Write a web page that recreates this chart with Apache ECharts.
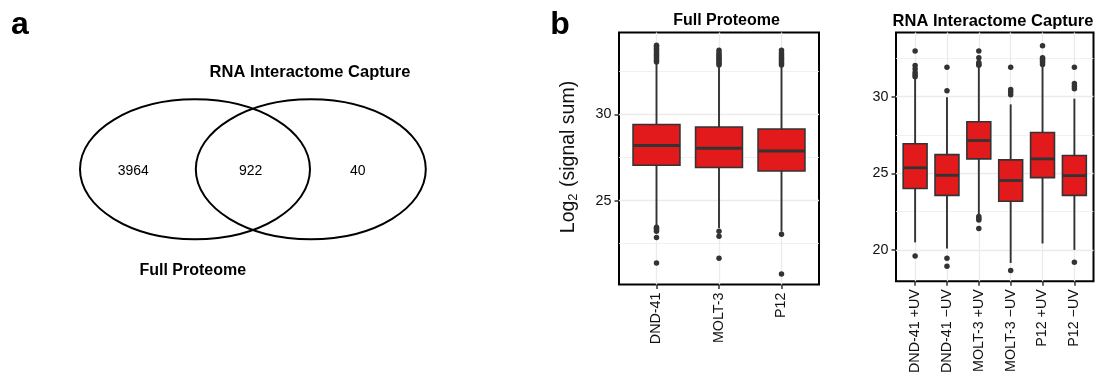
<!DOCTYPE html>
<html>
<head>
<meta charset="utf-8">
<script src="https://cdn.jsdelivr.net/npm/echarts@6/dist/echarts.min.js"></script>
<style>
html,body{margin:0;padding:0;background:#fff;}
#c{width:1096px;height:376px;}
</style>
</head>
<body>
<div id="c"></div>
<script>
// ---------- data ----------
const vennSetLabels = ['Full Proteome', 'RNA Interactome Capture'];
const vennCounts = [3964, 922, 40]; // only FP, both, only RIC

const fpCategories = ['DND-41', 'MOLT-3', 'P12'];
// [lower whisker, Q1, median, Q3, upper whisker]
const fpBoxes = [
  [23.50, 27.05, 28.20, 29.42, 32.97],
  [23.40, 26.92, 28.04, 29.28, 32.81],
  [23.20, 26.72, 27.88, 29.16, 32.80]
];
const fpOutliers = [
  [33.05, 33.15, 33.25, 33.35, 33.45, 33.55, 33.65, 33.75, 33.85, 33.95, 34.03, 23.45, 23.38, 23.30, 23.22, 22.85, 21.37],
  [32.88, 32.98, 33.08, 33.18, 33.28, 33.38, 33.48, 33.58, 33.74, 23.21, 22.92, 21.65],
  [32.88, 32.98, 33.08, 33.18, 33.28, 33.38, 33.48, 33.58, 33.74, 23.04, 20.73]
];
const fpTicks = [25, 30];
const fpMinor = [22.5, 27.5, 32.5];

const ricCategories = ['DND-41 +UV', 'DND-41 \u2212UV', 'MOLT-3 +UV', 'MOLT-3 \u2212UV', 'P12 +UV', 'P12 \u2212UV'];
const ricBoxes = [
  [20.49, 24.01, 25.36, 26.93, 31.25],
  [20.10, 23.56, 24.87, 26.22, 29.97],
  [22.31, 25.94, 27.14, 28.37, 31.95],
  [19.15, 23.18, 24.53, 25.88, 29.50],
  [20.42, 24.72, 25.94, 27.66, 31.97],
  [20.00, 23.56, 24.85, 26.16, 29.87]
];
const ricOutliers = [
  [31.30, 31.43, 31.58, 31.80, 32.04, 32.98, 19.61],
  [30.39, 31.93, 19.46, 18.93],
  [32.05, 32.12, 32.23, 32.55, 32.98, 22.18, 22.05, 21.95, 21.39],
  [30.13, 30.30, 30.47, 31.93, 18.66],
  [32.10, 32.23, 32.33, 32.44, 32.55, 33.32],
  [30.52, 30.68, 30.86, 31.93, 19.20]
];
const ricTicks = [20, 25, 30];
const ricMinor = [22.5, 27.5, 32.5];

// ---------- styling ----------
const FONT = 'Liberation Sans, Arial, Helvetica, sans-serif';
const BOX_FILL = '#E31A1C';
const DARK = '#333333';
const TXT = '#111111';

function renderBox(params, api) {
  const x = api.value(0);
  const lo = api.coord([x, api.value(1)]);
  const q1 = api.coord([x, api.value(2)]);
  const md = api.coord([x, api.value(3)]);
  const q3 = api.coord([x, api.value(4)]);
  const hi = api.coord([x, api.value(5)]);
  const hw = api.size([0.75, 0])[0] / 2;
  const ls = { stroke: DARK, lineWidth: 1.9 };
  return {
    type: 'group',
    children: [
      { type: 'line', shape: { x1: hi[0], y1: hi[1], x2: q3[0], y2: q3[1] }, style: ls },
      { type: 'line', shape: { x1: q1[0], y1: q1[1], x2: lo[0], y2: lo[1] }, style: ls },
      { type: 'rect', shape: { x: q3[0] - hw, y: q3[1], width: 2 * hw, height: q1[1] - q3[1] },
        style: { fill: BOX_FILL, stroke: DARK, lineWidth: 1.6 } },
      { type: 'line', shape: { x1: md[0] - hw, y1: md[1], x2: md[0] + hw, y2: md[1] },
        style: { stroke: DARK, lineWidth: 2.8 } }
    ]
  };
}

function boxData(boxes) { return boxes.map((b, i) => [i + 1].concat(b)); }
function outlierData(outs) {
  const pts = [];
  outs.forEach((arr, i) => arr.forEach(v => pts.push([i + 1, v])));
  return pts;
}
function gridLines(cats, ticks, minor) {
  const major = cats.map((c, i) => ({ xAxis: i + 1 })).concat(ticks.map(t => ({ yAxis: t })));
  return { major: major, minor: minor.map(t => ({ yAxis: t })) };
}

function makeXAxis(gridIndex, cats) {
  const vals = cats.map((c, i) => i + 1);
  return {
    type: 'value', gridIndex: gridIndex, min: 0.4, max: cats.length + 0.6,
    axisLine: { show: false },
    splitLine: { show: false },
    axisTick: { show: true, customValues: vals, length: 4.5, lineStyle: { color: DARK, width: 1.5 } },
    axisLabel: {
      show: true, customValues: vals, rotate: 90, margin: 8,
      fontSize: 14.3, color: TXT, fontFamily: FONT,
      formatter: v => cats[Math.round(v) - 1]
    }
  };
}
function makeYAxis(gridIndex, min, max, ticks) {
  return {
    type: 'value', gridIndex: gridIndex, min: min, max: max,
    axisLine: { show: false },
    splitLine: { show: false },
    axisTick: { show: true, customValues: ticks, length: 4.5, lineStyle: { color: DARK, width: 1.5 } },
    axisLabel: { show: true, customValues: ticks, margin: 7.5, fontSize: 14.3, color: TXT, fontFamily: FONT }
  };
}

function gridSeries(idx, cats, ticks, minor) {
  const g = gridLines(cats, ticks, minor);
  return [
    { type: 'scatter', xAxisIndex: idx, yAxisIndex: idx, data: [], z: 1, silent: true,
      markLine: { silent: true, z: 1, symbol: 'none', animation: false, label: { show: false },
        lineStyle: { color: '#EDEDED', width: 0.8, type: 'solid' }, data: g.minor } },
    { type: 'scatter', xAxisIndex: idx, yAxisIndex: idx, data: [], z: 1, silent: true,
      markLine: { silent: true, z: 1, symbol: 'none', animation: false, label: { show: false },
        lineStyle: { color: '#EBEBEB', width: 1.3, type: 'solid' }, data: g.major } }
  ];
}

const chart = echarts.init(document.getElementById('c'), null, { renderer: 'canvas' });

const vennCenters = [[195, 169.3], [310.8, 169.3]];
const vennCountPos = [[133.3, 171], [250.7, 171], [357.7, 171]];

const graphics = [
  { type: 'text', x: 20, y: 25, style: { text: 'a', fontSize: 32, fontWeight: 'bold', fontFamily: FONT, fill: '#000', align: 'center', verticalAlign: 'middle' } },
  { type: 'text', x: 560, y: 25, style: { text: 'b', fontSize: 32, fontWeight: 'bold', fontFamily: FONT, fill: '#000', align: 'center', verticalAlign: 'middle' } },
  { type: 'ellipse', shape: { cx: vennCenters[0][0], cy: vennCenters[0][1], rx: 115, ry: 70 }, style: { fill: 'none', stroke: '#000', lineWidth: 2 } },
  { type: 'ellipse', shape: { cx: vennCenters[1][0], cy: vennCenters[1][1], rx: 115, ry: 70 }, style: { fill: 'none', stroke: '#000', lineWidth: 2 } },
  { type: 'text', x: 310, y: 72.7, style: { text: vennSetLabels[1], fontSize: 16.5, fontWeight: 'bold', fontFamily: FONT, fill: '#000', align: 'center', verticalAlign: 'middle' } },
  { type: 'text', x: 192.8, y: 271, style: { text: vennSetLabels[0], fontSize: 16, fontWeight: 'bold', fontFamily: FONT, fill: '#000', align: 'center', verticalAlign: 'middle' } },
  { type: 'text', x: 726.5, y: 21, style: { text: 'Full Proteome', fontSize: 16, fontWeight: 'bold', fontFamily: FONT, fill: '#000', align: 'center', verticalAlign: 'middle' } },
  { type: 'text', x: 993, y: 21, style: { text: 'RNA Interactome Capture', fontSize: 16.5, fontWeight: 'bold', fontFamily: FONT, fill: '#000', align: 'center', verticalAlign: 'middle' } },
  { type: 'text', x: 569, y: 157, rotation: Math.PI / 2,
    style: { text: 'Log{sub|2} (signal sum)', fontSize: 19.5, fontFamily: FONT, fill: TXT, align: 'center', verticalAlign: 'middle',
      rich: { sub: { fontSize: 13, fontFamily: FONT, fill: TXT, padding: [9, 1, 0, 0] } } } }
];
vennCounts.forEach((n, i) => {
  graphics.push({ type: 'text', x: vennCountPos[i][0], y: vennCountPos[i][1],
    style: { text: String(n), fontSize: 14, fontFamily: FONT, fill: '#000', align: 'center', verticalAlign: 'middle' } });
});

const option = {
  animation: false,
  backgroundColor: '#ffffff',
  grid: [
    { left: 619, top: 32.5, width: 200, height: 252, show: true, borderColor: '#000', borderWidth: 2, backgroundColor: '#fff', containLabel: false },
    { left: 896, top: 32.5, width: 197.5, height: 252, show: true, borderColor: '#000', borderWidth: 2, backgroundColor: '#fff', containLabel: false }
  ],
  xAxis: [makeXAxis(0, fpCategories), makeXAxis(1, ricCategories)],
  yAxis: [makeYAxis(0, 20.12, 34.77, fpTicks), makeYAxis(1, 17.96, 34.19, ricTicks)],
  series: [].concat(
    gridSeries(0, fpCategories, fpTicks, fpMinor),
    gridSeries(1, ricCategories, ricTicks, ricMinor),
    [
      { type: 'custom', xAxisIndex: 0, yAxisIndex: 0, renderItem: renderBox, data: boxData(fpBoxes), z: 3,
        encode: { x: 0, y: [1, 2, 3, 4, 5] } },
      { type: 'custom', xAxisIndex: 1, yAxisIndex: 1, renderItem: renderBox, data: boxData(ricBoxes), z: 3,
        encode: { x: 0, y: [1, 2, 3, 4, 5] } },
      { type: 'scatter', xAxisIndex: 0, yAxisIndex: 0, data: outlierData(fpOutliers), symbol: 'circle', symbolSize: 5.5, z: 4,
        itemStyle: { color: DARK, opacity: 1, borderWidth: 0 } },
      { type: 'scatter', xAxisIndex: 1, yAxisIndex: 1, data: outlierData(ricOutliers), symbol: 'circle', symbolSize: 5.5, z: 4,
        itemStyle: { color: DARK, opacity: 1, borderWidth: 0 } }
    ]
  ),
  graphic: graphics
};
chart.setOption(option);
</script>
</body>
</html>
